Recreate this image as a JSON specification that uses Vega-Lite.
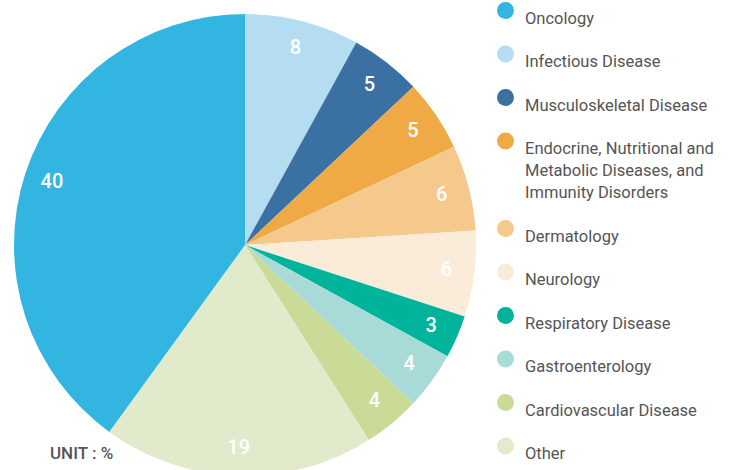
{
  "$schema": "https://vega.github.io/schema/vega-lite/v6.json",
  "width": 490,
  "height": 490,
  "padding": 0,
  "autosize": {"type": "pad"},
  "background": "white",
  "config": {"style": {"guide-label": {"lineHeight": 22}}},
  "title": {
    "text": "UNIT : %",
    "orient": "bottom",
    "anchor": "start",
    "frame": "group",
    "offset": 0,
    "dx": 50,
    "dy": -44,
    "font": "Roboto",
    "fontSize": 17,
    "fontWeight": 500,
    "color": "#555555"
  },
  "data": {
    "values": [
      {"category": "Infectious Disease", "value": 8, "ord": 1},
      {"category": "Musculoskeletal Disease", "value": 5, "ord": 2},
      {"category": "Endocrine, Nutritional and Metabolic Diseases, and Immunity Disorders", "value": 5, "ord": 3},
      {"category": "Dermatology", "value": 6, "ord": 4},
      {"category": "Neurology", "value": 6, "ord": 5},
      {"category": "Respiratory Disease", "value": 3, "ord": 6},
      {"category": "Gastroenterology", "value": 4, "ord": 7},
      {"category": "Cardiovascular Disease", "value": 4, "ord": 8},
      {"category": "Other", "value": 19, "ord": 9},
      {"category": "Oncology", "value": 40, "ord": 10}
    ]
  },
  "encoding": {
    "theta": {"field": "value", "type": "quantitative", "stack": true},
    "order": {"field": "ord", "type": "quantitative"},
    "color": {
      "field": "category",
      "type": "nominal",
      "scale": {
        "domain": ["Oncology", "Infectious Disease", "Musculoskeletal Disease", "Endocrine, Nutritional and Metabolic Diseases, and Immunity Disorders", "Dermatology", "Neurology", "Respiratory Disease", "Gastroenterology", "Cardiovascular Disease", "Other"],
        "range": ["#33b5e2", "#b5ddf1", "#3b70a3", "#efaa45", "#f5c98c", "#faecd9", "#00b39b", "#a8dbd7", "#c9db97", "#e1eacb"]
      },
      "legend": {
        "title": null,
        "orient": "none",
        "legendX": 497,
        "legendY": 2,
        "padding": 0,
        "symbolType": "circle",
        "symbolSize": 289,
        "symbolStrokeWidth": 0,
        "symbolOpacity": 1,
        "labelFont": "Roboto",
        "labelFontSize": 16.5,
        "labelColor": "#555555",
        "labelOffset": 11,
        "labelLimit": 300,
        "labelBaseline": "top",
        "rowPadding": 18.5,
        "labelExpr": "datum.label == 'Endocrine, Nutritional and Metabolic Diseases, and Immunity Disorders' ? ['Endocrine, Nutritional and', 'Metabolic Diseases, and', 'Immunity Disorders'] : datum.label",
        "encode": {
          "labels": {
            "enter": {"lineHeight": {"value": 22}},
            "update": {"dy": {"value": -17}, "lineHeight": {"value": 22}}
          }
        }
      }
    }
  },
  "layer": [
    {"mark": {"type": "arc", "outerRadius": 231, "stroke": null}},
    {
      "mark": {"type": "text", "radius": 203, "font": "Roboto", "fontSize": 20, "fontWeight": 500, "fill": "white"},
      "encoding": {
        "text": {"field": "value", "type": "quantitative"},
        "color": {"value": "white"}
      }
    }
  ]
}
